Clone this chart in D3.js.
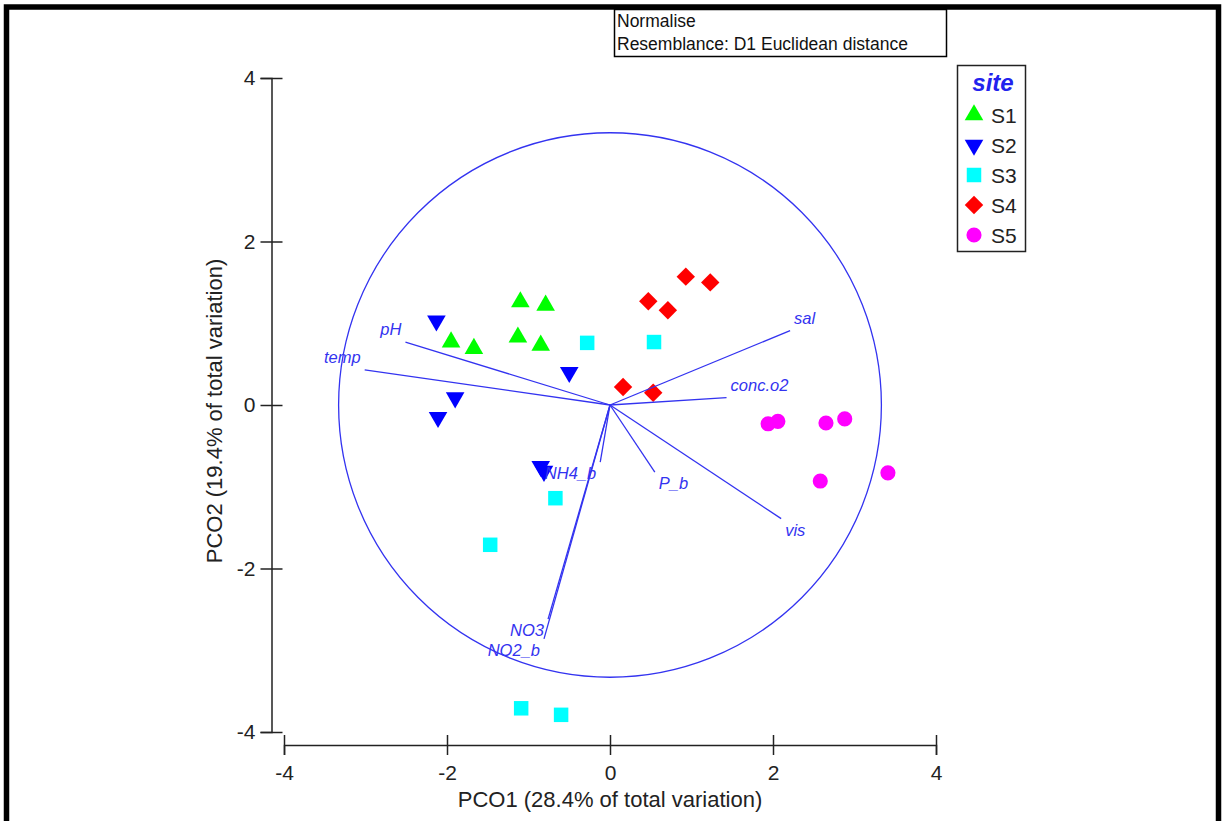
<!DOCTYPE html>
<html>
<head>
<meta charset="utf-8">
<script src="https://cdn.jsdelivr.net/npm/d3@7"></script>
<style>
  body { margin: 0; background: #fff; }
  svg { display: block; }
  text { font-family: "Liberation Sans", Arial, sans-serif; }
</style>
</head>
<body>
<div id="chart"></div>
<script>

// sample scores (PCO1, PCO2) per site
const siteNames = ['S1', 'S2', 'S3', 'S4', 'S5'];
const s1 = [[-1.10, 1.26], [-0.79, 1.22], [-1.95, 0.77], [-1.67, 0.69], [-1.13, 0.83], [-0.85, 0.73]];
const s2 = [[-2.13, 1.03], [-0.50, 0.40], [-1.90, 0.09], [-2.11, -0.15], [-0.85, -0.75], [-0.81, -0.81]];
const s3 = [[-0.28, 0.76], [0.54, 0.77], [-0.67, -1.14], [-1.47, -1.71], [-1.09, -3.71], [-0.60, -3.79]];
const s4 = [[0.93, 1.57], [1.23, 1.50], [0.47, 1.27], [0.71, 1.16], [0.16, 0.22], [0.53, 0.15]];
const s5 = [[1.94, -0.23], [2.06, -0.20], [2.65, -0.22], [2.88, -0.17], [2.58, -0.93], [3.41, -0.83]];

// vector overlay
const vectorNames = ['pH', 'temp', 'sal', 'conc.o2', 'vis', 'P_b', 'NH4_b', 'NO3', 'NO2_b'];
const vectorX = [-2.51, -3.01, 2.21, 1.43, 2.10, 0.55, -0.12, -0.76, -0.81];
const vectorY = [0.77, 0.43, 0.91, 0.09, -1.39, -0.82, -0.70, -2.62, -2.86];
const circleRadius = 3.33;

const xTicks = [-4, -2, 0, 2, 4];
const yTicks = [-4, -2, 0, 2, 4];
const xTitle = 'PCO1 (28.4% of total variation)';
const yTitle = 'PCO2 (19.4% of total variation)';
const noteLines = ['Normalise', 'Resemblance: D1 Euclidean distance'];
const legendTitle = 'site';

const siteData = [s1, s2, s3, s4, s5];
const siteColor = ['#00ff00', '#0000ff', '#00ffff', '#ff0000', '#ff00ff'];
const vecColor = '#3333f0';

const width = 1222, height = 821;

const svg = d3.select('#chart').append('svg')
    .attr('width', width)
    .attr('height', height);

// scales
const x = d3.scaleLinear().domain([-4, 4]).range([284, 936]);
const y = d3.scaleLinear().domain([-4, 4]).range([732, 78]);

// symbol per site
function symbolPath(i, size) {
    const types = [d3.symbolTriangle, d3.symbolTriangle, d3.symbolSquare, d3.symbolSquare, d3.symbolCircle];
    return d3.symbol().type(types[i]).size(size)();
}
const symSize = [150, 150, 210, 170, 180];
const symRot = [0, 180, 0, 45, 0];

// outer frame
svg.append('rect')
    .attr('x', 6.5).attr('y', 7)
    .attr('width', 1212).attr('height', 840)
    .attr('fill', 'none')
    .attr('stroke', '#000')
    .attr('stroke-width', 5.5);

// note box
const note = svg.append('g');
note.append('rect')
    .attr('x', 614.5).attr('y', 9.5)
    .attr('width', 332).attr('height', 47)
    .attr('fill', '#fff')
    .attr('stroke', '#000')
    .attr('stroke-width', 1.5);
note.selectAll('text').data(noteLines).join('text')
    .attr('x', 617)
    .attr('y', (d, i) => 27 + i * 23)
    .style('font-size', '17.5px')
    .style('fill', '#111')
    .text(d => d);

// axes (plain hyphen minus like the original)
const fmt = d => String(d);
const xAxis = svg.append('g')
    .attr('transform', 'translate(0,745)')
    .call(d3.axisBottom(x).tickValues(xTicks).tickFormat(fmt).tickSizeOuter(0).tickSize(10).tickPadding(10));
xAxis.selectAll('.tick line').attr('y1', -10).attr('y2', 10);

const yAxis = svg.append('g')
    .attr('transform', 'translate(271.5,0)')
    .call(d3.axisLeft(y).tickValues(yTicks).tickFormat(fmt).tickSizeOuter(0).tickSize(11).tickPadding(5));
yAxis.selectAll('.tick line').attr('x1', -11).attr('x2', 11);

[xAxis, yAxis].forEach(a => {
    a.select('.domain').attr('stroke', '#222').attr('stroke-width', 1.5);
    a.selectAll('.tick line').attr('stroke', '#222').attr('stroke-width', 1.5);
    a.selectAll('.tick text')
        .style('font-size', '21px')
        .style('font-family', '"Liberation Sans", Arial, sans-serif')
        .attr('fill', '#222');
});

svg.append('text')
    .attr('x', 610).attr('y', 807)
    .attr('text-anchor', 'middle')
    .style('font-size', '22px')
    .style('fill', '#222')
    .text(xTitle);

svg.append('text')
    .attr('transform', 'translate(222,411) rotate(-90)')
    .attr('text-anchor', 'middle')
    .style('font-size', '22px')
    .style('fill', '#222')
    .text(yTitle);

// correlation circle
svg.append('ellipse')
    .attr('cx', x(0)).attr('cy', y(0))
    .attr('rx', x(circleRadius) - x(0))
    .attr('ry', y(0) - y(circleRadius))
    .attr('fill', 'none')
    .attr('stroke', vecColor)
    .attr('stroke-width', 1.3);

// points
siteData.forEach((pts, i) => {
    svg.append('g').selectAll('path').data(pts).join('path')
        .attr('d', symbolPath(i, symSize[i]))
        .attr('transform', d => `translate(${x(d[0])},${y(d[1])}) rotate(${symRot[i]})`)
        .attr('fill', siteColor[i]);
});

// vectors
const vectors = vectorNames.map((n, i) => ({ name: n, vx: vectorX[i], vy: vectorY[i] }));
const vg = svg.append('g');
vg.selectAll('line').data(vectors).join('line')
    .attr('x1', x(0)).attr('y1', y(0))
    .attr('x2', d => x(d.vx)).attr('y2', d => y(d.vy))
    .attr('stroke', vecColor)
    .attr('stroke-width', 1.3);
vg.selectAll('text').data(vectors).join('text')
    .attr('x', d => x(d.vx) + (d.vx >= 0 ? 4 : -4))
    .attr('y', d => y(d.vy) + (d.vy >= 0 ? -7 : 17))
    .attr('text-anchor', d => d.vx >= 0 ? 'start' : 'end')
    .style('font-size', '16.5px')
    .style('font-style', 'italic')
    .style('fill', vecColor)
    .text(d => d.name);

// legend
const lg = svg.append('g');
lg.append('rect')
    .attr('x', 957.5).attr('y', 65.5)
    .attr('width', 68).attr('height', 186)
    .attr('fill', '#fff')
    .attr('stroke', '#222')
    .attr('stroke-width', 1.5);
lg.append('text')
    .attr('x', 993).attr('y', 91)
    .attr('text-anchor', 'middle')
    .style('font-size', '24px')
    .style('font-weight', 'bold')
    .style('font-style', 'italic')
    .style('fill', '#2222ee')
    .text(legendTitle);
const legY = d3.scalePoint().domain(siteNames).range([115, 235]);
siteNames.forEach((s, i) => {
    lg.append('path')
        .attr('d', symbolPath(i, symSize[i]))
        .attr('transform', `translate(974,${legY(s)}) rotate(${symRot[i]})`)
        .attr('fill', siteColor[i]);
    lg.append('text')
        .attr('x', 991).attr('y', legY(s) + 7.5)
        .style('font-size', '21px')
        .style('fill', '#222')
        .text(s);
});

</script>
</body>
</html>
